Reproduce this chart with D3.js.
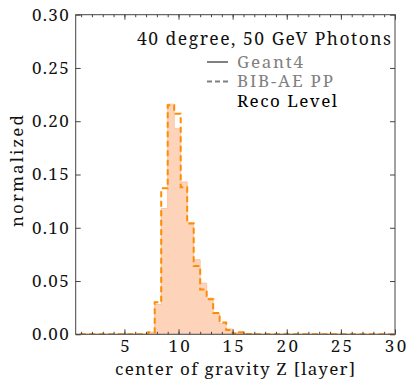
<!DOCTYPE html>
<html>
<head>
<meta charset="utf-8">
<script src="https://cdn.jsdelivr.net/npm/d3@7/dist/d3.min.js"></script>
<style>
  html, body { margin: 0; padding: 0; background: #fff; }
  svg { display: block; font-family: 'Noto Serif', serif; }
  svg text { font-family: 'Noto Serif', serif; }
</style>
</head>
<body>
<div id="chart"></div>
<script>
// ── Data ──
// histogram bins: 50 bins of width 0.6 between 0 and 30
const binEdges = d3.range(0, 30.0001, 0.6);

// Geant4 (filled)
const geant4 = [
  0, 0, 0, 0, 0, 0, 0, 0, 0, 0, 0, 0,
  0.002, 0.028, 0.118, 0.216, 0.193, 0.143, 0.105, 0.070, 0.048, 0.034,
  0.020, 0.010, 0.005, 0.0015, 0.0007, 0.0003, 0.0002, 0,
  0, 0, 0, 0, 0, 0, 0, 0, 0, 0,
  0, 0, 0, 0, 0, 0, 0, 0, 0, 0
];

// BIB-AE PP (dashed)
const bibae = [
  0, 0, 0, 0, 0, 0, 0, 0, 0, 0, 0, 0,
  0.002, 0.030, 0.137, 0.215, 0.207, 0.138, 0.104, 0.064, 0.042, 0.033,
  0.020, 0.011, 0.004, 0.0005, 0.002, 0.0003, 0, 0,
  0, 0, 0, 0, 0, 0, 0, 0, 0, 0,
  0, 0, 0, 0, 0, 0, 0, 0, 0, 0
];

const xTicks = [5, 10, 15, 20, 25, 30];
const xMinorTicks = d3.range(1, 31);
const yTicks = [0, 0.05, 0.10, 0.15, 0.20, 0.25, 0.30];

const legendItems = [
  { label: 'Geant4', color: '#808080', dash: '', w: 66 },
  { label: 'BIB-AE PP', color: '#808080', dash: '5,3', w: 96 },
  { label: 'Reco Level', color: '#000', dash: null, w: 100 }
];

// ── Layout ──
const width = 407, height = 381;
const plot = { left: 75.7, right: 395, top: 14.7, bottom: 334.3 };
const serif = "'Noto Serif', serif";
// the original font runs wider than Noto Serif: open up letter spacing
const widen = 1.12;

const svg = d3.select('#chart').append('svg')
  .attr('width', width).attr('height', height);

const x = d3.scaleLinear().domain([0.5, 30]).range([plot.left, plot.right]);
const y = d3.scaleLinear().domain([0, 0.30]).range([plot.bottom, plot.top]);

svg.append('clipPath').attr('id', 'plot-clip')
  .append('rect')
  .attr('x', plot.left).attr('y', plot.top)
  .attr('width', plot.right - plot.left).attr('height', plot.bottom - plot.top);

const g = svg.append('g').attr('clip-path', 'url(#plot-clip)');

// ── Filled histogram (Geant4) ──
function stepPoints(vals) {
  const pts = vals.map(function(v, i) { return [binEdges[i], v]; });
  pts.push([binEdges[vals.length], vals[vals.length - 1]]);
  return pts;
}

const area = d3.area()
  .curve(d3.curveStepAfter)
  .x(function(d) { return x(d[0]); })
  .y0(y(0))
  .y1(function(d) { return y(d[1]); });

g.append('path')
  .datum(stepPoints(geant4))
  .attr('d', area)
  .attr('fill', 'rgb(253,211,186)')
  .attr('stroke', 'rgb(251,196,162)')
  .attr('stroke-width', 1);

// ── Step histogram (BIB-AE PP) ──
const line = d3.line()
  .curve(d3.curveStepAfter)
  .x(function(d) { return x(d[0]); })
  .y(function(d) { return y(d[1]); });

const bibPts = [[binEdges[0], 0]].concat(stepPoints(bibae));
bibPts.push([binEdges[bibae.length], 0]);

g.append('path')
  .datum(bibPts)
  .attr('d', line)
  .attr('fill', 'none')
  .attr('stroke', '#ff8c00')
  .attr('stroke-width', 2)
  .attr('stroke-dasharray', '6,3.5');

// ── Axes (inward ticks on all sides) ──
const axisColor = '#444';

function styleAxis(sel) {
  sel.attr('font-family', null).attr('font-size', null);
  sel.select('.domain').remove();
  sel.selectAll('line').attr('stroke', axisColor);
  sel.selectAll('text').attr('fill', '#111')
    .style('font-family', serif).style('font-size', '17px');
}

function stretch(sel) {
  sel.each(function() {
    const w = this.getComputedTextLength();
    d3.select(this).attr('textLength', w * widen).attr('lengthAdjust', 'spacing');
  });
}

svg.append('g').attr('transform', 'translate(0,' + plot.bottom + ')')
  .call(d3.axisBottom(x).tickValues(xMinorTicks).tickSize(-2.5).tickFormat(''))
  .call(styleAxis);
svg.append('g').attr('transform', 'translate(0,' + plot.top + ')')
  .call(d3.axisTop(x).tickValues(xMinorTicks).tickSize(-2.5).tickFormat(''))
  .call(styleAxis);

svg.append('g').attr('transform', 'translate(0,' + plot.bottom + ')')
  .call(d3.axisBottom(x).tickValues(xTicks).tickSize(-5).tickPadding(6))
  .call(styleAxis)
  .selectAll('text').call(stretch);
svg.append('g').attr('transform', 'translate(0,' + plot.top + ')')
  .call(d3.axisTop(x).tickValues(xTicks).tickSize(-5).tickFormat(''))
  .call(styleAxis);

svg.append('g').attr('transform', 'translate(' + plot.left + ',0)')
  .call(d3.axisLeft(y).tickValues(yTicks).tickSize(-5).tickPadding(7).tickFormat(d3.format('.2f')))
  .call(styleAxis)
  .selectAll('text').call(stretch);
svg.append('g').attr('transform', 'translate(' + plot.right + ',0)')
  .call(d3.axisRight(y).tickValues(yTicks).tickSize(-5).tickFormat(''))
  .call(styleAxis);

// frame
svg.append('rect')
  .attr('x', plot.left).attr('y', plot.top)
  .attr('width', plot.right - plot.left).attr('height', plot.bottom - plot.top)
  .attr('fill', 'none').attr('stroke', axisColor).attr('stroke-width', 1);

// ── Axis labels ──
svg.append('text')
  .attr('x', 235).attr('y', 375)
  .attr('text-anchor', 'middle')
  .attr('textLength', 240).attr('lengthAdjust', 'spacing')
  .style('font-size', '17px').attr('fill', '#111')
  .text('center of gravity Z [layer]');

svg.append('text')
  .attr('transform', 'translate(23,171) rotate(-90)')
  .attr('text-anchor', 'middle')
  .attr('textLength', 112).attr('lengthAdjust', 'spacing')
  .style('font-size', '17px').attr('fill', '#111')
  .text('normalized');

// ── Title + legend ──
svg.append('text')
  .attr('x', 391).attr('y', 45)
  .attr('text-anchor', 'end')
  .attr('textLength', 254).attr('lengthAdjust', 'spacing')
  .style('font-size', '17.5px').attr('fill', '#111')
  .text('40 degree, 50 GeV Photons');

const legend = svg.append('g').attr('class', 'legend');
legendItems.forEach(function(d, i) {
  const yy = 62 + i * 19.5;
  if (d.dash !== null) {
    legend.append('line')
      .attr('x1', 207).attr('x2', 228).attr('y1', yy).attr('y2', yy)
      .attr('stroke', d.color).attr('stroke-width', 2)
      .attr('stroke-dasharray', d.dash);
  }
  legend.append('text')
    .attr('x', 237).attr('y', yy + 5.5)
    .attr('textLength', d.w).attr('lengthAdjust', 'spacing')
    .style('font-size', '17px').attr('fill', d.color)
    .text(d.label);
});
</script>
</body>
</html>
